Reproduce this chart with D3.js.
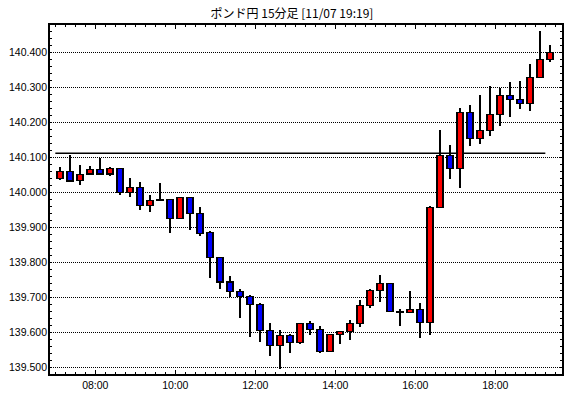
<!DOCTYPE html>
<html>
<head>
<meta charset="utf-8">
<script src="https://cdn.jsdelivr.net/npm/d3@7"></script>
<style>
  body { margin: 0; background: #fff; }
  svg { display: block; }
  .lbl { font-family: "Liberation Sans", Arial, sans-serif; font-size: 10.5px; fill: #000; }
  .title { font-family: "Noto Sans CJK JP", sans-serif; font-size: 12px; fill: #000; }
</style>
</head>
<body>
<div id="chart"></div>
<script>
// 15 minute candles, 07:00 .. 19:15
var times = ['07:00','07:15','07:30','07:45','08:00','08:15','08:30','08:45',
  '09:00','09:15','09:30','09:45','10:00','10:15','10:30','10:45',
  '11:00','11:15','11:30','11:45','12:00','12:15','12:30','12:45',
  '13:00','13:15','13:30','13:45','14:00','14:15','14:30','14:45',
  '15:00','15:15','15:30','15:45','16:00','16:15','16:30','16:45',
  '17:00','17:15','17:30','17:45','18:00','18:15','18:30','18:45',
  '19:00','19:15'];

var opens = [140.039,140.059,140.033,140.052,140.065,140.052,140.068,139.999,
  140.013,139.962,139.978,139.979,139.924,139.985,139.939,139.884,
  139.812,139.743,139.715,139.701,139.678,139.604,139.561,139.589,
  139.569,139.624,139.607,139.544,139.592,139.601,139.624,139.675,
  139.718,139.738,139.658,139.656,139.664,139.627,139.957,140.105,
  140.068,140.227,140.154,140.177,140.222,140.277,140.266,140.254,
  140.329,140.380];
var highs = [140.072,140.106,140.077,140.074,140.099,140.071,140.068,140.040,
  140.029,139.991,140.027,139.979,139.985,139.985,139.958,139.890,
  139.812,139.761,139.724,139.706,139.684,139.625,139.607,139.595,
  139.624,139.631,139.616,139.595,139.601,139.635,139.691,139.722,
  139.762,139.738,139.665,139.717,139.683,139.960,140.177,140.135,
  140.240,140.249,140.278,140.304,140.299,140.315,140.318,140.368,
  140.460,140.421];
var lows = [140.035,140.030,140.021,140.050,140.050,140.047,139.991,139.987,
  139.949,139.942,139.976,139.884,139.924,139.892,139.875,139.754,
  139.723,139.700,139.640,139.587,139.572,139.532,139.494,139.540,
  139.566,139.592,139.539,139.544,139.565,139.578,139.614,139.669,
  139.686,139.658,139.617,139.656,139.583,139.591,139.957,140.038,
  140.012,140.133,140.138,140.161,140.190,140.216,140.238,140.233,
  140.329,140.373];
var closes = [140.059,140.032,140.051,140.065,140.052,140.068,139.999,140.013,
  139.962,139.976,139.977,139.924,139.985,139.939,139.882,139.812,
  139.743,139.715,139.701,139.678,139.604,139.561,139.589,139.569,
  139.624,139.607,139.544,139.592,139.601,139.624,139.675,139.718,
  139.738,139.658,139.657,139.664,139.627,139.957,140.105,140.068,
  140.227,140.154,140.177,140.222,140.277,140.266,140.254,140.329,
  140.380,140.400];

// reference line (previous level)
var refLevel = 140.111;
var refFrom = '07:00', refTo = '19:15';

var yTicks = [139.5,139.6,139.7,139.8,139.9,140.0,140.1,140.2,140.3,140.4];
var xLabels = ['08:00','10:00','12:00','14:00','16:00','18:00'];
var titleText = 'ポンド円 15分足 [11/07 19:19]';

(function() {
  var W = 570, H = 398;
  var padL = 49, padR = 563, padT = 24, padB = 375;

  function mins(t) {
    var p = t.split(':');
    return (+p[0] - 7) * 60 + (+p[1]);
  }

  var x = d3.scaleLinear().domain([-9.5, 761.5]).range([padL, padR]);
  var y = d3.scaleLinear().domain([139.477, 140.481]).range([padB, padT]);

  var svg = d3.select('#chart').append('svg')
    .attr('width', W).attr('height', H);

  svg.append('text').attr('class', 'title')
    .attr('x', 292).attr('y', 18)
    .attr('text-anchor', 'middle')
    .text(titleText);

  // dotted grid
  svg.append('g').selectAll('line')
    .data(yTicks)
    .enter().append('line')
    .attr('x1', padL).attr('x2', padR)
    .attr('y1', function(d) { return Math.round(y(d)) + 0.5; })
    .attr('y2', function(d) { return Math.round(y(d)) + 0.5; })
    .attr('stroke', '#000')
    .attr('stroke-width', 1)
    .attr('stroke-dasharray', '1,1');

  var yMinor = d3.range(139.48, 140.481, 0.02).map(function(v) { return +v.toFixed(2); });
  var xMinor = d3.range(0, 761, 15);
  var xMajor = xLabels.map(mins);

  var axes = [
    svg.append('g').attr('transform', 'translate(' + padL + ',0)')
      .call(d3.axisLeft(y).tickValues(yMinor).tickSize(-3).tickFormat('')),
    svg.append('g').attr('transform', 'translate(' + padR + ',0)')
      .call(d3.axisRight(y).tickValues(yMinor).tickSize(-3).tickFormat('')),
    svg.append('g').attr('transform', 'translate(0,' + padB + ')')
      .call(d3.axisBottom(x).tickValues(xMinor).tickSize(-3).tickFormat('')),
    svg.append('g').attr('transform', 'translate(0,' + padT + ')')
      .call(d3.axisTop(x).tickValues(xMinor).tickSize(-3).tickFormat('')),
    svg.append('g').attr('transform', 'translate(0,' + padB + ')')
      .call(d3.axisBottom(x).tickValues(xMajor).tickSize(-5).tickFormat('')),
    svg.append('g').attr('transform', 'translate(0,' + padT + ')')
      .call(d3.axisTop(x).tickValues(xMajor).tickSize(-5).tickFormat(''))
  ];
  axes.forEach(function(g) {
    g.select('.domain').remove();
    g.selectAll('line').attr('stroke', '#000').attr('shape-rendering', 'crispEdges');
  });

  // y labels
  svg.append('g').selectAll('text')
    .data(yTicks)
    .enter().append('text')
    .attr('class', 'lbl')
    .attr('x', padL - 2)
    .attr('y', function(d) { return y(d) + 4; })
    .attr('text-anchor', 'end')
    .text(function(d) { return d.toFixed(3); });

  // x labels
  svg.append('g').selectAll('text')
    .data(xLabels)
    .enter().append('text')
    .attr('class', 'lbl')
    .attr('x', function(d) { return x(mins(d)); })
    .attr('y', 389)
    .attr('text-anchor', 'middle')
    .text(function(d) { return d; });

  // reference level
  svg.append('line')
    .attr('x1', x(mins(refFrom))).attr('x2', x(mins(refTo)))
    .attr('y1', y(refLevel)).attr('y2', y(refLevel))
    .attr('stroke', '#000').attr('stroke-width', 1.5);

  // candles
  var data = times.map(function(t, i) {
    return {t: t, o: opens[i], h: highs[i], l: lows[i], c: closes[i]};
  });

  var candle = svg.append('g').attr('shape-rendering', 'crispEdges')
    .selectAll('g.candle')
    .data(data)
    .enter().append('g')
    .attr('class', 'candle');

  candle.append('line')
    .attr('x1', function(d) { return Math.round(x(mins(d.t) + 7.5)); })
    .attr('x2', function(d) { return Math.round(x(mins(d.t) + 7.5)); })
    .attr('y1', function(d) { return y(d.h); })
    .attr('y2', function(d) { return y(d.l); })
    .attr('stroke', '#000')
    .attr('stroke-width', 2);

  candle.append('rect')
    .attr('x', function(d) { return Math.round(x(mins(d.t) + 7.5)) - 3; })
    .attr('width', 6)
    .attr('y', function(d) { return y(Math.max(d.o, d.c)); })
    .attr('height', function(d) { return Math.max(1, Math.abs(y(d.o) - y(d.c))); })
    .attr('fill', function(d) { return d.c > d.o ? '#ff0000' : '#0000ff'; })
    .attr('stroke', '#000')
    .attr('stroke-width', 1.2);

  // frame
  svg.append('rect')
    .attr('x', padL).attr('y', padT)
    .attr('width', padR - padL).attr('height', padB - padT)
    .attr('fill', 'none')
    .attr('stroke', '#000')
    .attr('stroke-width', 1.5)
    .attr('shape-rendering', 'crispEdges');
})();
</script>
</body>
</html>
